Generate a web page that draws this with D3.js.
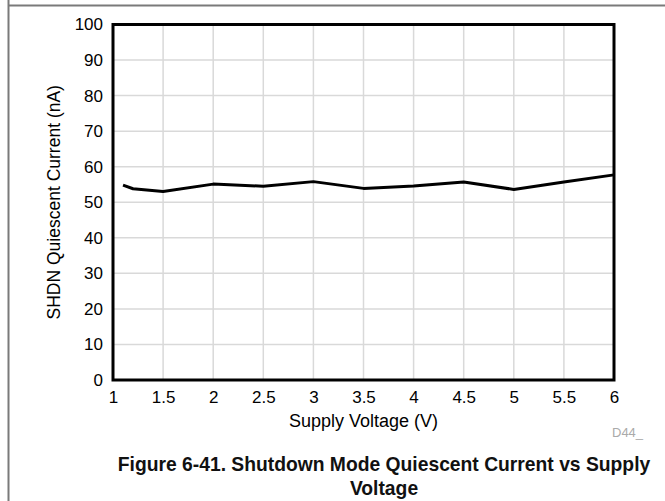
<!DOCTYPE html>
<html>
<head>
<meta charset="utf-8">
<script src="https://cdn.jsdelivr.net/npm/d3@7"></script>
<style>
  html, body { margin: 0; padding: 0; background: #fff; }
  svg { display: block; font-family: "Liberation Sans", Arial, Helvetica, sans-serif; }
</style>
</head>
<body>
<svg id="chart" width="665" height="501"></svg>
<script>
// Supply voltage (V) and SHDN quiescent current (nA)
const supplyVoltage = [1.1, 1.2, 1.5, 2.0, 2.5, 3.0, 3.5, 4.0, 4.5, 5.0, 5.5, 6.0];
const shdnCurrent   = [54.8, 53.8, 53.0, 55.1, 54.5, 55.8, 53.9, 54.6, 55.7, 53.6, 55.7, 57.7];
const xTicks = [1, 1.5, 2, 2.5, 3, 3.5, 4, 4.5, 5, 5.5, 6];
const yTicks = [0, 10, 20, 30, 40, 50, 60, 70, 80, 90, 100];

const svg = d3.select("#chart");
const plot = { left: 113, top: 24.5, right: 614, bottom: 380 };

const x = d3.scaleLinear().domain([1, 6]).range([plot.left, plot.right]);
const y = d3.scaleLinear().domain([0, 100]).range([plot.bottom, plot.top]);

// Page frame (top and left rules)
svg.append("line").attr("x1", 8.5).attr("x2", 665).attr("y1", 5.5).attr("y2", 5.5)
  .attr("stroke", "#7a7a7a").attr("stroke-width", 2);
svg.append("line").attr("x1", 8.5).attr("x2", 8.5).attr("y1", 0).attr("y2", 501)
  .attr("stroke", "#7a7a7a").attr("stroke-width", 2);

// Gridlines
const grid = svg.append("g");
grid.selectAll("line.gx").data(xTicks.slice(1, -1)).join("line")
  .attr("x1", d => x(d)).attr("x2", d => x(d))
  .attr("y1", plot.top).attr("y2", plot.bottom)
  .attr("stroke", "#d9d9d9").attr("stroke-width", 1.5);
grid.selectAll("line.gy").data(yTicks.slice(1, -1)).join("line")
  .attr("x1", plot.left).attr("x2", plot.right)
  .attr("y1", d => y(d)).attr("y2", d => y(d))
  .attr("stroke", "#d9d9d9").attr("stroke-width", 1.5);

// Axes (labels only, no tick marks)
const xAxis = svg.append("g").attr("transform", `translate(0,${plot.bottom})`)
  .call(d3.axisBottom(x).tickValues(xTicks).tickSize(0).tickPadding(11).tickFormat(d3.format("")));
const yAxis = svg.append("g").attr("transform", `translate(${plot.left},0)`)
  .call(d3.axisLeft(y).tickValues(yTicks).tickSize(0).tickPadding(10).tickFormat(d3.format("")));
[xAxis, yAxis].forEach(a => {
  a.select(".domain").remove();
  a.attr("font-size", 17).attr("font-family", "'Liberation Sans', Arial, sans-serif");
  a.selectAll("text").attr("fill", "#000");
});

// Data line
svg.append("path")
  .datum(supplyVoltage.map((v, i) => [v, shdnCurrent[i]]))
  .attr("fill", "none").attr("stroke", "#000").attr("stroke-width", 3)
  .attr("stroke-linejoin", "round")
  .attr("d", d3.line().x(d => x(d[0])).y(d => y(d[1])));

// Plot frame
svg.append("rect")
  .attr("x", plot.left).attr("y", plot.top)
  .attr("width", plot.right - plot.left).attr("height", plot.bottom - plot.top)
  .attr("fill", "none").attr("stroke", "#000").attr("stroke-width", 3);

// Axis titles
svg.append("text").attr("x", (plot.left + plot.right) / 2).attr("y", 427)
  .attr("text-anchor", "middle").attr("font-size", 18).text("Supply Voltage (V)");
svg.append("text")
  .attr("transform", `translate(60,${(plot.top + plot.bottom) / 2}) rotate(-90)`)
  .attr("text-anchor", "middle").attr("font-size", 17.5).text("SHDN Quiescent Current (nA)");

// Graph id
svg.append("text").attr("x", 612).attr("y", 437).attr("font-size", 13)
  .attr("fill", "#aaa").text("D44_");

// Caption
const caption = svg.append("text").attr("text-anchor", "middle")
  .attr("font-weight", "bold").attr("font-size", 19.3).attr("fill", "#111");
caption.append("tspan").attr("x", 384).attr("y", 471)
  .text("Figure 6-41. Shutdown Mode Quiescent Current vs Supply");
caption.append("tspan").attr("x", 384).attr("y", 495).text("Voltage");
</script>
</body>
</html>
